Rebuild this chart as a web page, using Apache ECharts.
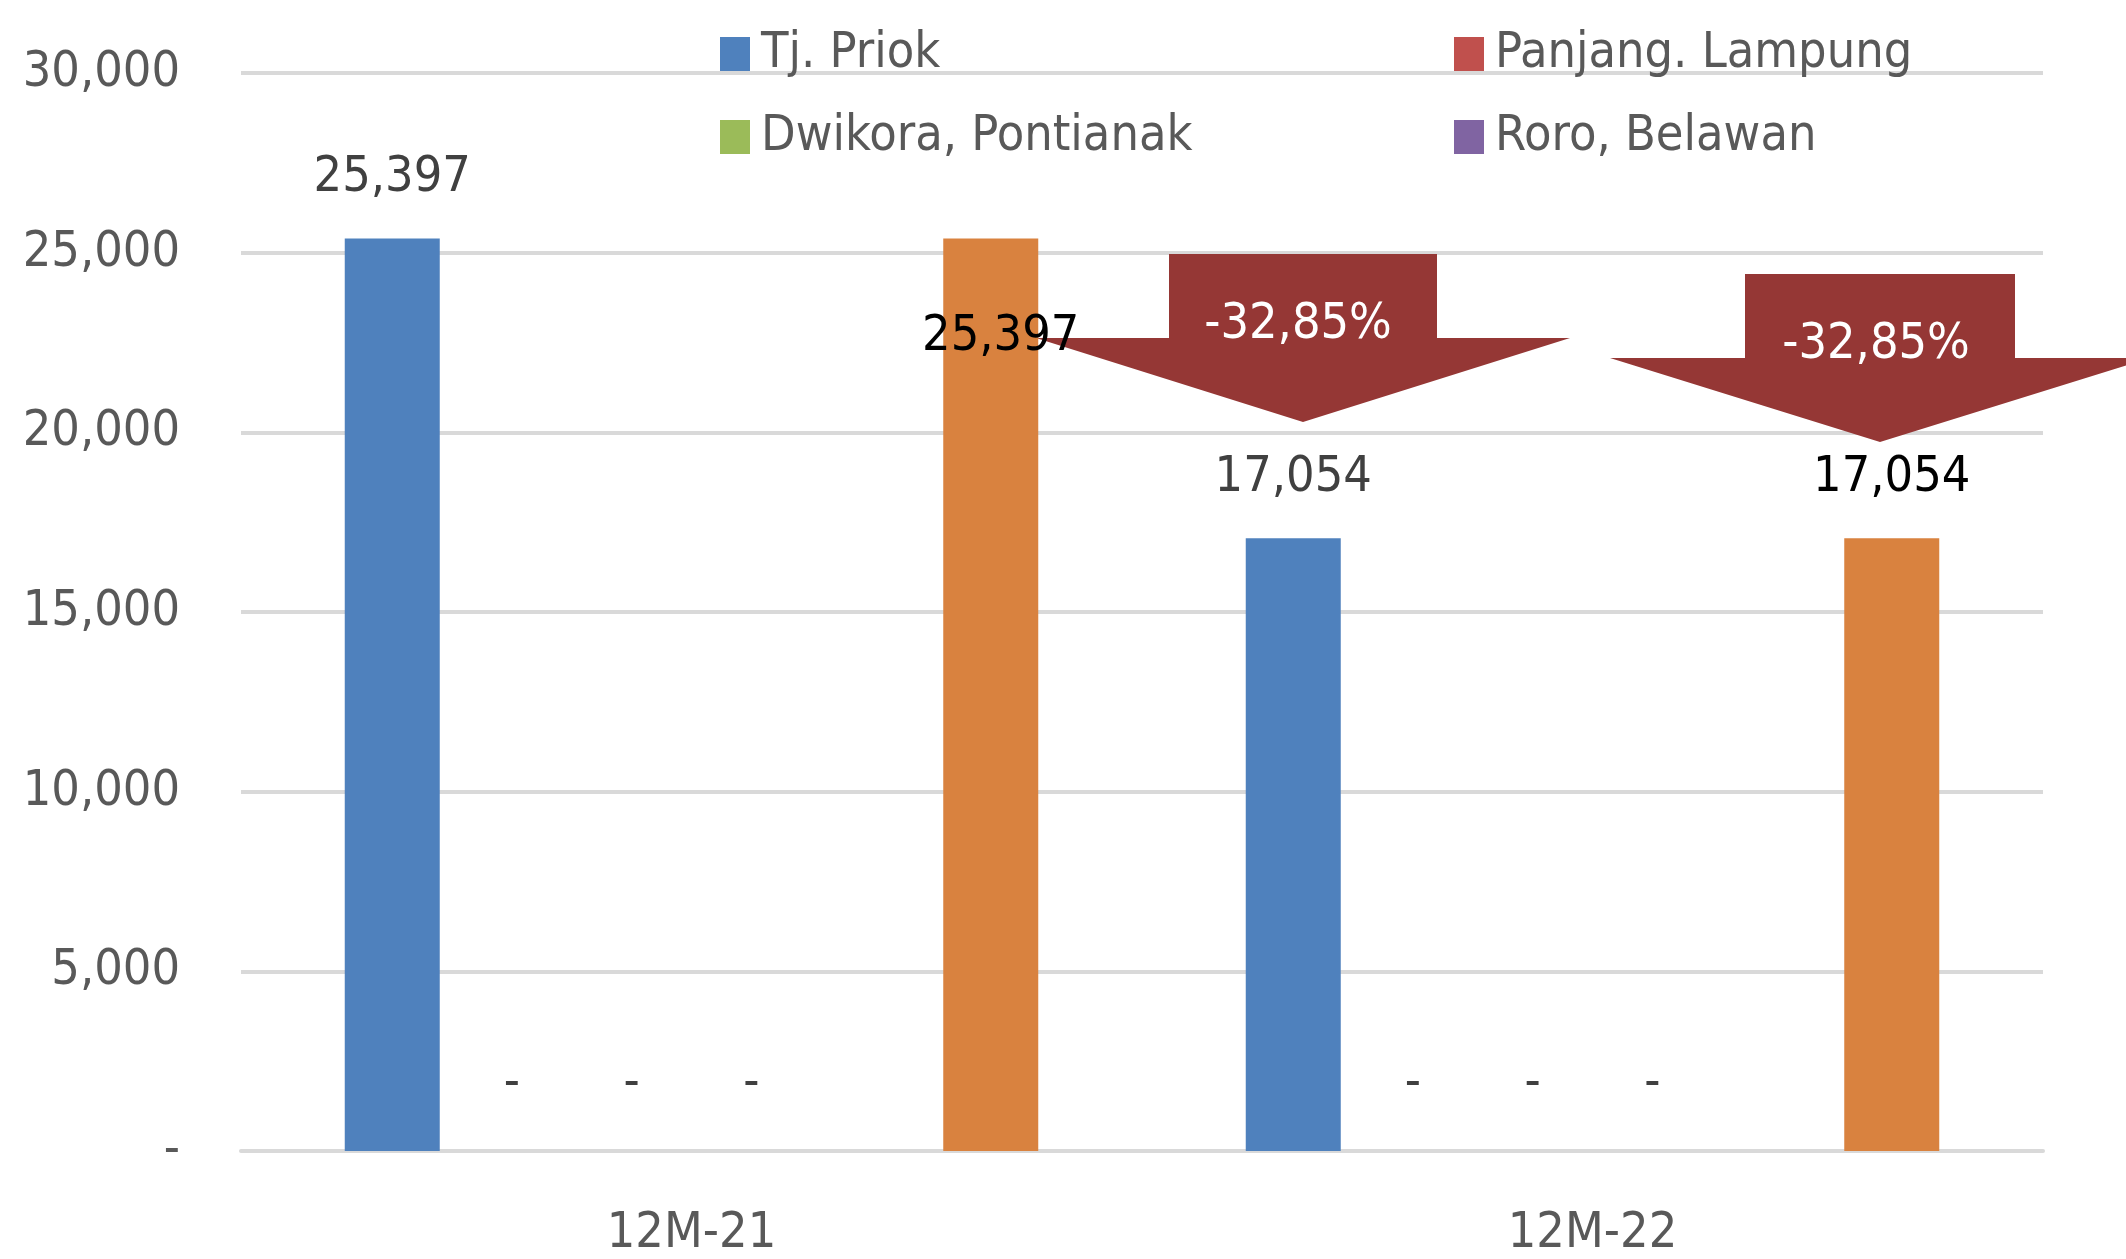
<!DOCTYPE html>
<html>
<head>
<meta charset="utf-8">
<script src="https://cdn.jsdelivr.net/npm/echarts@6/dist/echarts.min.js"></script>
<style>
  html, body { margin: 0; padding: 0; background: #fff; }
  #chart { width: 2126px; height: 1259px; }
</style>
</head>
<body>
<div id="chart"></div>
<script>
const categories = ["12M-21", "12M-22"];
const tjPriok = [25397, 17054];
const panjangLampung = [0, 0];
const dwikoraPontianak = [0, 0];
const roroBelawan = [0, 0];
const emptySlot = [null, null];
const total = [25397, 17054];
const changeLabels = ["-32,85%", "-32,85%"];

const FONT = "'Liberation Sans Narrow', 'DejaVu Sans Condensed', sans-serif";
const FS = 50;
const fmt = (v) => (v === 0 ? "-" : v.toLocaleString("en-US"));

const chart = echarts.init(document.getElementById("chart"));

function barSeries(name, data, color, labelColor, dist) {
  return {
    name: name,
    type: "bar",
    data: data,
    barWidth: 95,
    barGap: "26%",
    itemStyle: { color: color },
    label: {
      show: true,
      position: "top",
      distance: dist,
      fontFamily: FONT,
      fontSize: FS,
      color: labelColor,
      formatter: (p) => fmt(p.value),
    },
  };
}

const totalSeries = barSeries("Total", total.map((v, i) =>
  i === 0
    ? { value: v, label: { position: "insideTop", distance: 74, offset: [10, 0] } }
    : { value: v }
), "#D9823F", "#000", 35);
totalSeries.z = 5;

const legendText = { fontFamily: FONT, fontSize: FS, color: "#595959", lineHeight: 66, padding: [0, 0, 0, 6] };

const option = {
  animation: false,
  color: ["#4F81BD", "#C0504D", "#9BBB59", "#8064A2"],
  grid: { left: 241, right: 83, top: 73, bottom: 106 },
  legend: [
    {
      data: ["Tj. Priok", "Dwikora, Pontianak"],
      orient: "vertical",
      left: 715,
      top: 16,
      icon: "rect",
      itemWidth: 30,
      itemHeight: 34,
      itemGap: 17,
      textStyle: legendText,
    },
    {
      data: ["Panjang. Lampung", "Roro, Belawan"],
      orient: "vertical",
      left: 1449,
      top: 16,
      icon: "rect",
      itemWidth: 30,
      itemHeight: 34,
      itemGap: 17,
      textStyle: legendText,
    },
  ],
  xAxis: {
    type: "category",
    data: categories,
    axisTick: { show: false },
    axisLine: { lineStyle: { color: "#D9D9D9", width: 4 } },
    axisLabel: { fontFamily: FONT, fontSize: FS, color: "#595959", margin: 58 },
  },
  yAxis: {
    type: "value",
    min: 0,
    max: 30000,
    interval: 5000,
    axisLine: { show: false },
    axisTick: { show: false },
    splitLine: { lineStyle: { color: "#D9D9D9", width: 4 } },
    axisLabel: { fontFamily: FONT, fontSize: FS, color: "#595959", margin: 61, formatter: fmt },
  },
  series: [
    barSeries("Tj. Priok", tjPriok, "#4F81BD", "#404040", 35),
    barSeries("Panjang. Lampung", panjangLampung, "#C0504D", "#404040", 42),
    barSeries("Dwikora, Pontianak", dwikoraPontianak, "#9BBB59", "#404040", 42),
    barSeries("Roro, Belawan", roroBelawan, "#8064A2", "#404040", 42),
    barSeries("Kosong", emptySlot, "#A5A5A5", "#404040", 42),
    totalSeries,
  ],
  graphic: [
    {
      type: "polygon",
      z: 3,
      shape: { points: [[1169, 254], [1437, 254], [1437, 338], [1570, 338], [1303, 422], [1036, 338], [1169, 338]] },
      style: { fill: "#953735" },
    },
    {
      type: "text",
      z: 4,
      x: 1298,
      y: 325,
      style: { text: changeLabels[0], fill: "#fff", font: FS + "px " + FONT, textAlign: "center", textVerticalAlign: "middle" },
    },
    {
      type: "polygon",
      z: 3,
      shape: { points: [[1745, 274], [2015, 274], [2015, 358], [2150, 358], [1880, 442], [1610, 358], [1745, 358]] },
      style: { fill: "#953735" },
    },
    {
      type: "text",
      z: 4,
      x: 1876,
      y: 345,
      style: { text: changeLabels[1], fill: "#fff", font: FS + "px " + FONT, textAlign: "center", textVerticalAlign: "middle" },
    },
  ],
};

chart.setOption(option);
</script>
</body>
</html>
